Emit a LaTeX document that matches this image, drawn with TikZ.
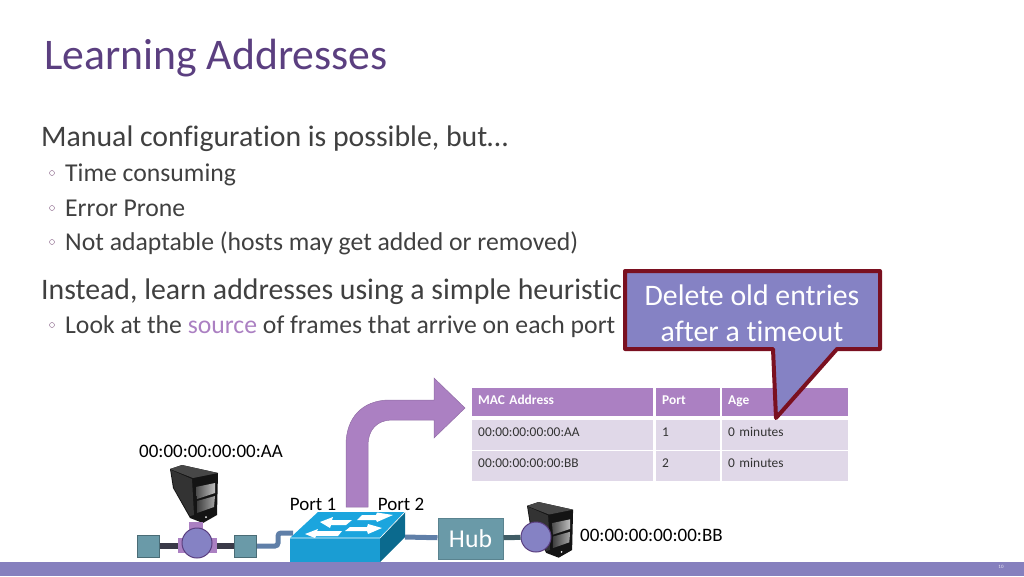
\documentclass[tikz,border=0pt]{standalone}
\usepackage{fontspec}
\setmainfont{Carlito}[Ligatures=NoCommon]
\definecolor{bandcolor}{HTML}{8680BE}
\definecolor{titlecolor}{HTML}{5B3F80}
\definecolor{bodycolor}{HTML}{404040}
\definecolor{headcolor}{HTML}{AB80C2}
\definecolor{rowcolor}{HTML}{E0D8E8}
\definecolor{tealcolor}{HTML}{6A9AA8}
\definecolor{steelcolor}{HTML}{5F7FA8}
\definecolor{wirecolor}{HTML}{3A3A48}
\definecolor{calloutcolor}{HTML}{8582C4}
\definecolor{calloutedge}{HTML}{7A1020}
\definecolor{switchtop}{HTML}{1BA5DE}
\definecolor{switchside}{HTML}{0B6A8E}
\tikzset{
	titlestyle/.style={anchor=base west,inner sep=0pt,text=titlecolor,font=\fontsize{43.7}{50}\selectfont},
	headstyle/.style={anchor=base west,inner sep=0pt,text=bodycolor,font=\fontsize{29.8}{34}\selectfont},
	itemstyle/.style={anchor=base west,inner sep=0pt,text=bodycolor,font=\fontsize{25.7}{30}\selectfont},
	bulletstyle/.style={circle,draw=gray!70!violet,inner sep=0pt,minimum size=5pt},
	labelstyle/.style={inner sep=0pt,text=black,font=\fontsize{19}{22}\selectfont},
	headcell/.style={anchor=north west,inner sep=0pt,inner xsep=6pt,fill=headcolor,text=white,align=left,minimum height=28pt,text height=9pt,text depth=5pt,font=\fontsize{13.4}{16}\selectfont\bfseries},
	rowcell/.style={anchor=north west,inner sep=0pt,inner xsep=6pt,fill=rowcolor,text=black!80,align=left,minimum height=29.5pt,text height=9pt,text depth=5pt,font=\fontsize{13.4}{16}\selectfont},
	squarestyle/.style={rectangle,draw=tealcolor!70!black,fill=tealcolor,line width=1pt,minimum size=22pt,inner sep=0pt},
	hubstyle/.style={rectangle,draw=tealcolor!85!black,fill=tealcolor,line width=1pt,minimum width=65pt,minimum height=41pt,inner sep=0pt,text=white,font=\fontsize{25.7}{30}\selectfont},
	portstyle/.style={circle,draw=titlecolor,fill=calloutcolor,line width=1pt,minimum size=30pt,inner sep=0pt},
	wirelink/.style={draw=wirecolor,line width=5.5pt},
	steellink/.style={draw=steelcolor,line width=5pt,rounded corners=3pt},
	teallink/.style={draw=tealcolor!60!black,line width=5pt},
	pics/serverbox/.style={code={
		\fill[black!92] (0,4) -- (12,0) -- (48,8) -- (47,50) -- (33,58) -- (20,53) -- (3,23) -- cycle;
		\fill[black!72] (0,4) -- (12,0) -- (48,8) -- (23,13) -- cycle;
		\fill[black!80] (1,5) -- (22,14) -- (24,50) -- (20,51) -- (4,23) -- cycle;
		\shade[left color=black!70,right color=black!25] (26,22) -- (45,18) -- (45,28) -- (27,34) -- cycle;
		\shade[left color=black!75,right color=black!35] (27,36) -- (45,31) -- (44,42) -- (27,48) -- cycle;
		\fill[white] (36,52) circle (1);
	}}
}
\begin{document}
\begin{tikzpicture}[x=1pt,y=-1pt]
	\useasboundingbox (0,0) rectangle (1024,576);
	\fill[bandcolor] (0,562) rectangle (1024,576);
	\node[font=\fontsize{5}{6}\selectfont,text=white!80!bandcolor,inner sep=0pt] (pagenum) at (1001,567) {10};

	% slide text
	\node[titlestyle] (title) at (44,69) {Learning Addresses};
	\node[headstyle] (manual) at (41,146) {Manual configuration is possible, but…};
	\node[bulletstyle] (b1) at (52,173) {};
	\node[itemstyle] (time) at (65,181) {Time consuming};
	\node[bulletstyle] (b2) at (52,208) {};
	\node[itemstyle] (error) at (65,216) {Error Prone};
	\node[bulletstyle] (b3) at (52,242) {};
	\node[itemstyle] (adapt) at (65,250) {Not adaptable (hosts may get added or removed)};
	\node[headstyle] (instead) at (41,299) {Instead, learn addresses using a simple heuristic};
	\node[bulletstyle] (b4) at (52,325) {};
	\node[itemstyle] (look) at (65,333) {Look at the \textcolor{headcolor}{source} of frames that arrive on each port};

	% table
	\node[headcell,text width=169pt] (h1) at (472,388) {MAC Address};
	\node[headcell,text width=52pt] (h2) at (656,388) {Port};
	\node[headcell,text width=114pt] (h3) at (722,388) {Age};
	\node[rowcell,text width=169pt] (a1) at (472,420) {00:00:00:00:00:AA};
	\node[rowcell,text width=52pt] (a2) at (656,420) {1};
	\node[rowcell,text width=114pt] (a3) at (722,420) {0 minutes};
	\node[rowcell,text width=169pt] (b1c) at (472,451) {00:00:00:00:00:BB};
	\node[rowcell,text width=52pt] (b2c) at (656,451) {2};
	\node[rowcell,text width=114pt] (b3c) at (722,451) {0 minutes};

	% purple arrow
	\fill[headcolor,draw=headcolor!85!black,line width=.5pt] (346,507) -- (346,445) .. controls (346,418) and (362,400) .. (390,400)
		-- (434,400) -- (434,378) -- (465,408) -- (434,438) -- (434,420) -- (392,420)
		.. controls (377,420) and (368,430) .. (368,445) -- (368,507) -- cycle;

	% callout
	\draw[fill=calloutcolor,draw=calloutedge,line width=4pt,line join=round] (625,271) -- (880,271) -- (880,349) -- (837,349)
		-- (776,418) -- (773,349) -- (625,349) -- cycle;
	\node[font=\fontsize{29.8}{36}\selectfont,text=white,align=center,inner sep=0pt] (delete) at (752,313.5) {Delete old entries\\after a timeout};

	% left host
	\pic (srva) at (170,465) {serverbox};
	\node[squarestyle] (squarea) at (148,546) {};
	\node[squarestyle] (squareb) at (245.5,546) {};
	\path[wirelink] (squarea) -- (squareb);
	\fill[headcolor] (178,538) rectangle (217,553);
	\fill[headcolor] (189,522) rectangle (203,538);
	\node[portstyle] (porta) at (197,543) {};
	\node[labelstyle] (aa) at (211,451) {00:00:00:00:00:AA};

	% switch
	\fill[switchtop] (290,538) -- (318,512) -- (405,512) -- (380,538) -- cycle;
	\fill[switchtop!95!black] (290,538) rectangle (380,562);
	\fill[switchside] (380,538) -- (405,512) -- (405,537) -- (380,562) -- cycle;
	\draw[white,line width=.6pt] (290,538) -- (380,538) -- (405,512);
	\fill[white] (320,522) -- (333,517) -- (332,520) -- (352,520) -- (346,525) -- (331,525) -- (330,528) -- cycle;
	\fill[white] (393,515) -- (377,522) -- (376,520) -- (357,520) -- (362,515) -- (376,515) -- (377,512.5) -- cycle;
	\fill[white] (305,534) -- (318,529) -- (317,531) -- (342,531) -- (338,536) -- (316,536) -- (315,538) -- cycle;
	\fill[white] (382,528) -- (368,534) -- (367,531) -- (345,531) -- (350,527) -- (367,527) -- (368,524) -- cycle;
	\node[labelstyle] (port1) at (313,504) {Port 1};
	\node[labelstyle] (port2) at (401,504) {Port 2};
	\coordinate (swleft) at (293,533);
	\coordinate (swright) at (405,537);

	% hub and right host
	\node[hubstyle] (hub) at (470.5,538.5) {Hub};
	\pic[scale=.96] (srvb) at (527,502) {serverbox};
	\node[portstyle] (portb) at (536,537) {};
	\path[steellink] (squareb) -- (278,546) -- (278,533) -- (swleft);
	\path[steellink] (swright) -- (hub);
	\path[teallink] (hub) -- (portb);
	\node[labelstyle,anchor=west] (bb) at (580,535) {00:00:00:00:00:BB};
\end{tikzpicture}
\end{document}
